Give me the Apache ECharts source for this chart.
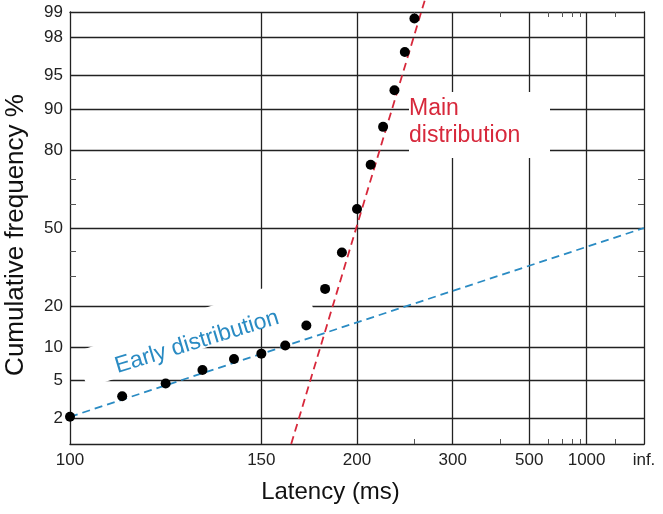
<!DOCTYPE html>
<html>
<head>
<meta charset="utf-8">
<script src="https://cdn.jsdelivr.net/npm/echarts@6/dist/echarts.min.js"></script>
<style>
html,body{margin:0;padding:0;background:#fff;}
#chart{width:663px;height:514px;}
</style>
</head>
<body>
<div id="chart"></div>
<script>
// ---- data ----
const latencyMs = [100, 110, 120, 130, 140, 150, 160, 170, 180, 190, 200, 210, 220, 230, 240, 250];
const cumulativePct = [2.1, 3.5, 4.7, 6.3, 7.9, 8.8, 10.3, 14.7, 25.6, 39.6, 58.1, 75.2, 86.2, 93.1, 97.1, 98.8];

const earlyFitMs = [100, Infinity];
const earlyFitPct = [2.1, 50];
const mainFitMs = [162.7, 262];
const mainFitPct = [1, 99.3];

const xTickMs = [100, 150, 200, 300, 500, 1000, Infinity];
const xTickText = ['100', '150', '200', '300', '500', '1000', 'inf.'];
const xMinorMs = [250, 400, 600, 700, 800, 900, 2000];
const yTickPct = [2, 5, 10, 20, 50, 80, 90, 95, 98, 99];
const yMinorPct = [30, 40, 60, 70];
const yRangePct = [1, 99];
const xRangeMs = [100, Infinity];

// ---- transforms (reciprobit) ----
function recip(t) { return t === Infinity ? 0 : -1 / t; }
function probit(pct) {
  const p = pct / 100;
  const a = [-3.969683028665376e+01, 2.209460984245205e+02, -2.759285104469687e+02, 1.383577518672690e+02, -3.066479806614716e+01, 2.506628277459239e+00];
  const b = [-5.447609879822406e+01, 1.615858368580409e+02, -1.556989798598866e+02, 6.680131188771972e+01, -1.328068155288572e+01];
  const c = [-7.784894002430293e-03, -3.223964580411365e-01, -2.400758277161838e+00, -2.549732539343734e+00, 4.374664141464968e+00, 2.938163982698783e+00];
  const d = [7.784695709041462e-03, 3.224671290700398e-01, 2.445134137142996e+00, 3.754408661907416e+00];
  const plow = 0.02425, phigh = 1 - plow;
  let q, r;
  if (p < plow) {
    q = Math.sqrt(-2 * Math.log(p));
    return (((((c[0]*q+c[1])*q+c[2])*q+c[3])*q+c[4])*q+c[5]) / ((((d[0]*q+d[1])*q+d[2])*q+d[3])*q+1);
  }
  if (p <= phigh) {
    q = p - 0.5; r = q*q;
    return (((((a[0]*r+a[1])*r+a[2])*r+a[3])*r+a[4])*r+a[5])*q / (((((b[0]*r+b[1])*r+b[2])*r+b[3])*r+b[4])*r+1);
  }
  q = Math.sqrt(-2 * Math.log(1 - p));
  return -(((((c[0]*q+c[1])*q+c[2])*q+c[3])*q+c[4])*q+c[5]) / ((((d[0]*q+d[1])*q+d[2])*q+d[3])*q+1);
}

const xTickVals = xTickMs.map(recip);
const yTickVals = yTickPct.map(probit);
function xLabel(v) { for (let i = 0; i < xTickVals.length; i++) if (Math.abs(xTickVals[i] - v) < 1e-9) return xTickText[i]; return ''; }
function yLabel(v) { for (let i = 0; i < yTickVals.length; i++) if (Math.abs(yTickVals[i] - v) < 1e-9) return String(yTickPct[i]); return ''; }

const FONT = '"Liberation Sans", Arial, Helvetica, sans-serif';
const LINE = '#222';
const BLUE = '#2a8bc3';
const RED = '#d7283b';

const xMin = recip(xRangeMs[0]), xMax = recip(xRangeMs[1]);
const yMin = probit(yRangePct[0]), yMax = probit(yRangePct[1]);

function xAxisCfg(pos) {
  return {
    type: 'value', position: pos, min: xMin, max: xMax,
    axisLine: { show: true, onZero: false, lineStyle: { color: LINE, width: 1.3 } },
    axisTick: { show: true, inside: true, length: 5, customValues: xMinorMs.map(recip), lineStyle: { color: '#555', width: 1 } },
    axisLabel: pos === 'bottom' ? { show: true, customValues: xTickVals, formatter: xLabel, color: '#222', fontSize: 17, fontFamily: FONT, margin: 8 } : { show: false },
    splitLine: { show: false }
  };
}
function yAxisCfg(pos) {
  return {
    type: 'value', position: pos, min: yMin, max: yMax,
    axisLine: { show: true, onZero: false, lineStyle: { color: LINE, width: 1.3 } },
    axisTick: { show: true, inside: true, length: 6, customValues: yMinorPct.map(probit), lineStyle: { color: '#555', width: 1 } },
    axisLabel: pos === 'left' ? { show: true, customValues: yTickVals, formatter: yLabel, color: '#222', fontSize: 17, fontFamily: FONT, margin: 7 } : { show: false },
    splitLine: { show: false }
  };
}

const gridV = xTickMs.slice(1, -1).map(t => [{ coord: [recip(t), yMin] }, { coord: [recip(t), yMax] }]);
const gridH = yTickPct.slice(0, -1).map(p => [{ coord: [xMin, probit(p)] }, { coord: [xMax, probit(p)] }]);

const chart = echarts.init(document.getElementById('chart'), null, { renderer: 'canvas' });
chart.setOption({
  animation: false,
  backgroundColor: '#fff',
  grid: { left: 70, top: 12, right: 19, bottom: 70, containLabel: false },
  xAxis: [xAxisCfg('bottom'), xAxisCfg('top')],
  yAxis: [yAxisCfg('left'), yAxisCfg('right')],
  graphic: [
    { type: 'rect', z: 3, shape: { x: 409, y: 92, width: 141, height: 66 }, style: { fill: '#fff' } },
    { type: 'rect', z: 3, x: 75.25, y: 352.2, rotation: 18.8 * Math.PI / 180, shape: { x: 0, y: 0, width: 239.3, height: 37.8 }, style: { fill: '#fff' } },
    { type: 'text', z: 10, x: 409, y: 95, style: { text: 'Main\ndistribution', fill: RED, font: '23px ' + FONT, lineHeight: 27, align: 'left', verticalAlign: 'top', textAlign: 'left', textVerticalAlign: 'top' } },
    { type: 'text', z: 10, x: 197, y: 342, rotation: 17 * Math.PI / 180, style: { text: 'Early distribution', fill: BLUE, font: '23px ' + FONT, align: 'center', verticalAlign: 'middle', textAlign: 'center', textVerticalAlign: 'middle' } },
    { type: 'text', z: 10, x: 330.5, y: 492, style: { text: 'Latency (ms)', fill: '#111', font: '24px ' + FONT, align: 'center', verticalAlign: 'middle', textAlign: 'center', textVerticalAlign: 'middle' } },
    { type: 'text', z: 10, x: 16, y: 235, rotation: Math.PI / 2, style: { text: 'Cumulative frequency %', fill: '#111', font: '26px ' + FONT, align: 'center', verticalAlign: 'middle', textAlign: 'center', textVerticalAlign: 'middle' } }
  ],
  series: [
    {
      name: 'grid', type: 'line', z: 1, data: [], silent: true,
      markLine: {
        z: 1, silent: true, symbol: ['none', 'none'], label: { show: false }, animation: false,
        lineStyle: { type: 'solid', color: LINE, width: 1.3 },
        emphasis: { disabled: true },
        data: gridV.concat(gridH)
      }
    },
    {
      name: 'Early fit', type: 'line', z: 5, symbol: 'none', silent: true,
      data: earlyFitMs.map((t, i) => [recip(t), probit(earlyFitPct[i])]),
      lineStyle: { color: BLUE, width: 1.8, type: [8, 5] }
    },
    {
      name: 'Main fit', type: 'line', z: 5, symbol: 'none', silent: true, clip: false,
      data: mainFitMs.map((t, i) => [recip(t), probit(mainFitPct[i])]),
      lineStyle: { color: RED, width: 1.8, type: [8, 5] }
    },
    {
      name: 'Data', type: 'scatter', z: 6, symbol: 'circle', symbolSize: 10, silent: true,
      itemStyle: { color: '#000', opacity: 1 },
      data: latencyMs.map((t, i) => [recip(t), probit(cumulativePct[i])])
    }
  ]
});
</script>
</body>
</html>
